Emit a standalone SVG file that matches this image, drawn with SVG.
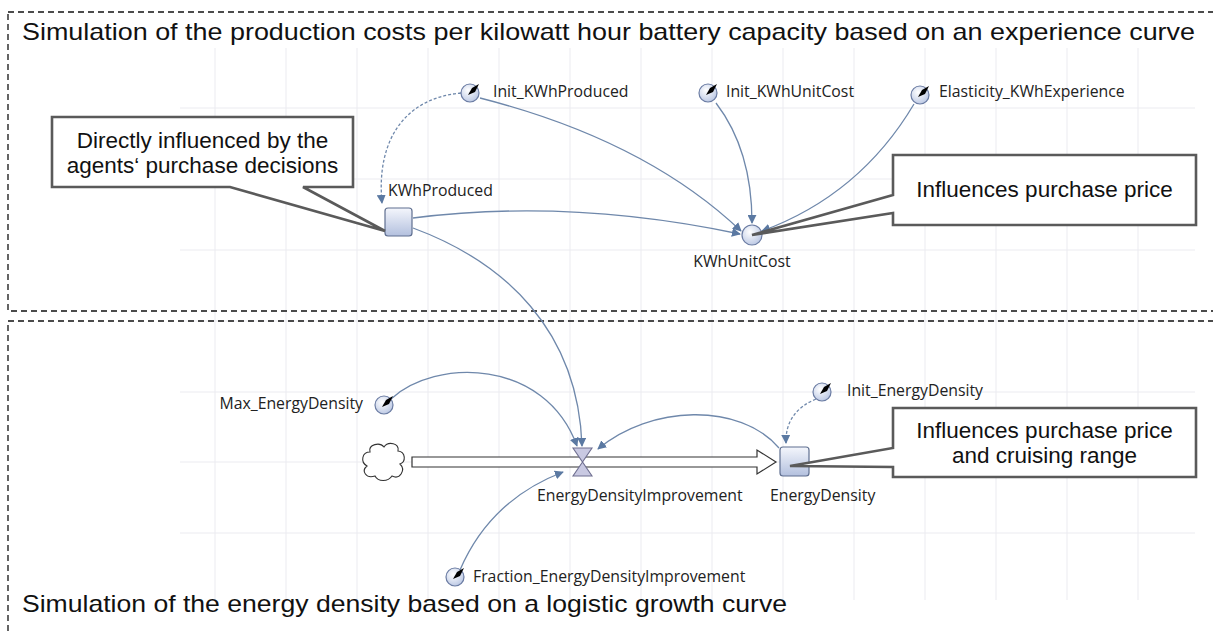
<svg xmlns="http://www.w3.org/2000/svg" width="1213" height="632" viewBox="0 0 1213 632">
<style>
.frame{fill:none;stroke:#111;stroke-width:1.3;stroke-dasharray:6 4}
.grid{stroke:#ebebf0;stroke-width:1}
.big{font-family:"Liberation Sans",Arial,sans-serif;font-size:22.5px;fill:#111}
.title{font-family:"Liberation Sans",Arial,sans-serif;font-size:24px;fill:#111}
.lbl{font-family:"Open Sans","Noto Sans",sans-serif;font-size:15.8px;fill:#222}
.callout{fill:#fff;stroke:#5a5a5a;stroke-width:2.6;stroke-linejoin:miter}
.link{fill:none;stroke:#6f88ab;stroke-width:1.3;marker-end:url(#arr)}
.dash{stroke-dasharray:3 2}
.param{fill:url(#pg);stroke:#6b7ca3;stroke-width:1.2}
.stock{fill:url(#sg);stroke:#5f6f90;stroke-width:1.2}
</style>
<defs>
<radialGradient id="pg" cx="0.4" cy="0.35" r="0.7">
<stop offset="0" stop-color="#ffffff"/>
<stop offset="1" stop-color="#b9c6e3"/>
</radialGradient>
<linearGradient id="sg" x1="0" y1="0" x2="0" y2="1">
<stop offset="0" stop-color="#f4f6fc"/>
<stop offset="1" stop-color="#b3c0de"/>
</linearGradient>
<marker id="arr" viewBox="0 0 10 10" refX="9" refY="5" markerWidth="9" markerHeight="9" markerUnits="userSpaceOnUse" orient="auto">
<path d="M0,0 L10,5 L0,10 Z" fill="#5b79a2"/>
</marker>
<g id="picon">
<circle cx="0" cy="0" r="9" class="param"/>
<path d="M-2,2 L2,-5 L9,-9 L5,-1 Z" fill="#000"/>
</g>
</defs>
<rect width="1213" height="632" fill="#fff"/>
<g id="grid">
<line class="grid" x1="215" y1="48" x2="215" y2="600"/>
<line class="grid" x1="286" y1="48" x2="286" y2="600"/>
<line class="grid" x1="357" y1="48" x2="357" y2="600"/>
<line class="grid" x1="428" y1="48" x2="428" y2="600"/>
<line class="grid" x1="499" y1="48" x2="499" y2="600"/>
<line class="grid" x1="570" y1="48" x2="570" y2="600"/>
<line class="grid" x1="641" y1="48" x2="641" y2="600"/>
<line class="grid" x1="712" y1="48" x2="712" y2="600"/>
<line class="grid" x1="783" y1="48" x2="783" y2="600"/>
<line class="grid" x1="854" y1="48" x2="854" y2="600"/>
<line class="grid" x1="925" y1="48" x2="925" y2="600"/>
<line class="grid" x1="996" y1="48" x2="996" y2="600"/>
<line class="grid" x1="1067" y1="48" x2="1067" y2="600"/>
<line class="grid" x1="1138" y1="48" x2="1138" y2="600"/>
<line class="grid" x1="180" y1="108" x2="1195" y2="108"/>
<line class="grid" x1="180" y1="179" x2="1195" y2="179"/>
<line class="grid" x1="180" y1="250" x2="1195" y2="250"/>
<line class="grid" x1="180" y1="321" x2="1195" y2="321"/>
<line class="grid" x1="180" y1="392" x2="1195" y2="392"/>
<line class="grid" x1="180" y1="462" x2="1195" y2="462"/>
<line class="grid" x1="180" y1="533" x2="1195" y2="533"/>
</g>
<g id="frames">
<rect class="frame" x="8" y="12" width="1215" height="299"/>
<rect class="frame" x="8" y="321" width="1215" height="330"/>
<text class="title" x="22" y="40" textLength="1173" lengthAdjust="spacingAndGlyphs">Simulation of the production costs per kilowatt hour battery capacity based on an experience curve</text>
<text class="title" x="22" y="612" textLength="765" lengthAdjust="spacingAndGlyphs">Simulation of the energy density based on a logistic growth curve</text>
</g>
<g id="connectors">
<path class="link dash" d="M461,93 C405,98 376,140 382,203"/>
<path class="link" d="M480,98 Q645,140 741,231"/>
<path class="link" d="M716,103 Q752,150 752,223"/>
<path class="link" d="M914,104 Q860,195 762,231"/>
<path class="link" d="M413,218 Q570,198 740,234"/>
<path class="link" d="M413,228 C505,262 578,330 582,446"/>
<path class="link" d="M391,399 C435,358 545,358 577,446"/>
<path class="link" d="M779,448 C740,402 650,405 598,449"/>
<path class="link dash" d="M816,399 Q785,412 786,443"/>
<path class="link" d="M460,570 Q490,500 563,472"/>
</g>
<g id="flow">
<path d="M412,457 H757 V450 L776,462 L757,474 V467 H412 Z" fill="#fff" stroke="#333" stroke-width="1.2"/>
</g>
<g id="cloud">
<path d="M370,452 C368,444 380,442 384,447 C388,441 400,443 398,451 C406,452 406,462 400,464 C406,470 400,480 392,476 C388,482 378,482 375,476 C366,479 361,471 367,466 C360,462 362,452 370,452 Z" fill="#fff" stroke="#333" stroke-width="1.1"/>
</g>
<g id="EnergyDensityImprovement">
<path d="M573,448 H592 L582.5,462 Z M582.5,462 L573,476 H592 Z" fill="#c9c9e2" stroke="#6f6f90" stroke-width="1.1"/>
<text class="lbl" x="537" y="501">EnergyDensityImprovement</text>
</g>
<g id="Init_KWhProduced">
<use href="#picon" x="470" y="93"/>
<text class="lbl" x="493" y="97">Init_KWhProduced</text>
</g>
<g id="Init_KWhUnitCost">
<use href="#picon" x="708" y="93"/>
<text class="lbl" x="726" y="97">Init_KWhUnitCost</text>
</g>
<g id="Elasticity_KWhExperience">
<use href="#picon" x="920" y="95"/>
<text class="lbl" x="939" y="97">Elasticity_KWhExperience</text>
</g>
<g id="KWhProduced">
<rect class="stock" x="385" y="208" width="27" height="28" rx="3"/>
<text class="lbl" x="388" y="196">KWhProduced</text>
</g>
<g id="KWhUnitCost">
<circle class="param" cx="752" cy="235" r="10"/>
<text class="lbl" x="742" y="267" text-anchor="middle">KWhUnitCost</text>
</g>
<g id="Max_EnergyDensity">
<use href="#picon" x="384" y="405"/>
<text class="lbl" x="363" y="409" text-anchor="end">Max_EnergyDensity</text>
</g>
<g id="Init_EnergyDensity">
<use href="#picon" x="822" y="392"/>
<text class="lbl" x="847" y="396">Init_EnergyDensity</text>
</g>
<g id="EnergyDensity">
<rect class="stock" x="780" y="447" width="29" height="29" rx="3"/>
<text class="lbl" x="770" y="501">EnergyDensity</text>
</g>
<g id="Fraction_EnergyDensityImprovement">
<use href="#picon" x="455" y="577"/>
<text class="lbl" x="473" y="582">Fraction_EnergyDensityImprovement</text>
</g>
<g id="callout1">
<path class="callout" d="M52,117 H353 V187 H303 L385,231 L230,187 H52 Z"/>
<text class="big" x="202.5" y="148" text-anchor="middle">Directly influenced by the</text>
<text class="big" x="202.5" y="173" text-anchor="middle">agents‘ purchase decisions</text>
</g>
<g id="callout2">
<path class="callout" d="M893,155 H1196 V225 H893 V213 L752,235 L893,195 Z"/>
<text class="big" x="1044.5" y="197" text-anchor="middle">Influences purchase price</text>
</g>
<g id="callout3">
<path class="callout" d="M893,408 H1196 V477 H893 V467 L790,466 L893,448 Z"/>
<text class="big" x="1044.5" y="438" text-anchor="middle">Influences purchase price</text>
<text class="big" x="1044.5" y="463" text-anchor="middle">and cruising range</text>
</g>
</svg>
